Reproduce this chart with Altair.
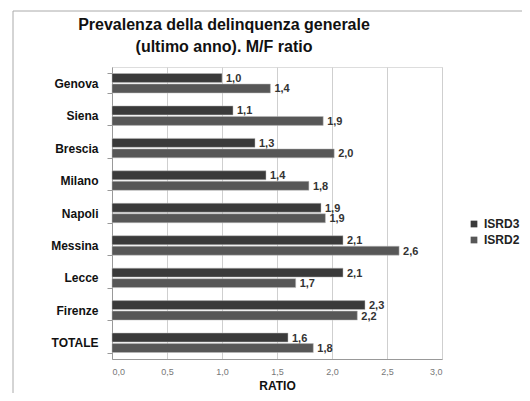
import altair as alt
import pandas as pd

cities = ["Genova", "Siena", "Brescia", "Milano", "Napoli", "Messina", "Lecce", "Firenze", "TOTALE"]
isrd3 = [1.00, 1.10, 1.30, 1.40, 1.90, 2.10, 2.10, 2.30, 1.60]
isrd2 = [1.44, 1.92, 2.02, 1.79, 1.94, 2.61, 1.67, 2.23, 1.83]
series = ["ISRD3", "ISRD2"]
colors = ["#3a3a3a", "#575757"]
x_ticks = [0, 0.5, 1, 1.5, 2, 2.5, 3]

rows = []
for c, a, b in zip(cities, isrd3, isrd2):
    rows.append({"city": c, "series": "ISRD3", "value": a})
    rows.append({"city": c, "series": "ISRD2", "value": b})
df = pd.DataFrame(rows)

FONT = "Liberation Sans"

y = alt.Y(
    "city:N", sort=cities, title=None,
    scale=alt.Scale(paddingInner=0.4, paddingOuter=0.2),
    axis=alt.Axis(labelFont=FONT, labelFontWeight="bold", labelFontSize=12,
                  labelColor="#111", labelPadding=9, tickBand="extent",
                  domainColor="#999", tickColor="#999", tickSize=5, grid=False),
)
yoff = alt.YOffset("series:N", sort=series, scale=alt.Scale(paddingInner=0.15))
x = alt.X(
    "value:Q", scale=alt.Scale(domain=[0, 3], nice=False),
    axis=alt.Axis(values=x_ticks,
                  labelExpr="replace(format(datum.value,'.1f'),'.',',')",
                  title="RATIO", titleFont=FONT, titleFontWeight="bold",
                  titleFontSize=12, titleColor="#111", titlePadding=4,
                  grid=True, gridColor="#cfcfcf", ticks=False,
                  labelColor="#777", labelFontSize=9, labelFont=FONT,
                  labelPadding=8, domainColor="#999"),
)

base = alt.Chart(df)

bars = base.mark_bar(stroke="#bdbdbd", strokeWidth=0.5).encode(
    x=x, y=y, yOffset=yoff,
    color=alt.Color("series:N", sort=series,
                    scale=alt.Scale(domain=series, range=colors),
                    legend=alt.Legend(title=None, orient="none", legendX=356,
                                      legendY=151, symbolType="square",
                                      symbolSize=45, labelFont=FONT,
                                      labelFontWeight="bold", labelFontSize=12,
                                      labelColor="#222", rowPadding=4,
                                      symbolStrokeWidth=0)),
)

labels = base.transform_calculate(
    lab="replace(format(datum.value,'.1f'),'.',',')"
).mark_text(align="left", baseline="middle", dx=4, dy=1, font=FONT,
            fontWeight="bold", fontSize=11, color="#333").encode(
    x="value:Q", y=alt.Y("city:N", sort=cities), yOffset=yoff, text="lab:N",
)

frame = alt.Chart(pd.DataFrame({"k": [0]})).mark_rect(
    fill="transparent", stroke="#aaaaaa", strokeWidth=1
).encode(x=alt.value(-99), x2=alt.value(600), y=alt.value(-56), y2=alt.value(500))

chart = alt.layer(frame, bars, labels).properties(
    width=330, height=292,
    title=alt.Title(["Prevalenza della delinquenza generale", "(ultimo anno). M/F ratio"],
                    font=FONT, fontSize=16, fontWeight="bold", color="#111",
                    lineHeight=22, dx=-53, offset=-44, anchor="middle"),
    autosize="none",
    padding={"left": 104, "top": 59, "right": 80, "bottom": 34},
).configure_view(stroke=None).configure(background="white")

chart.save("out.html", embed_options={"renderer": "svg", "actions": False})
